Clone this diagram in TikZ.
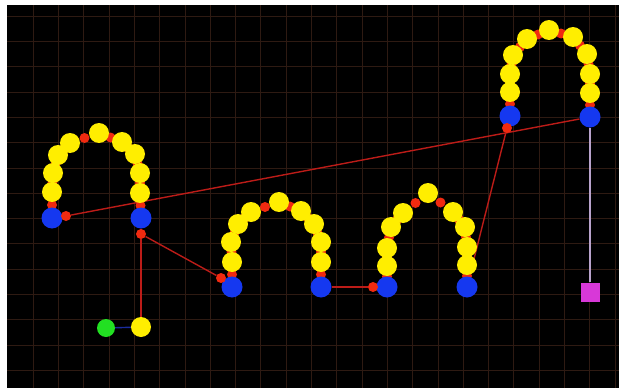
\documentclass[tikz,border=0pt]{standalone}
\usepackage{tikz}
\usetikzlibrary{calc}
\definecolor{gridBrown}{HTML}{2E1A12}
\definecolor{linkYellow}{HTML}{FFEE00}
\definecolor{motorBlue}{HTML}{1538F0}
\definecolor{jointRed}{HTML}{F02A10}
\definecolor{rodRed}{HTML}{BC1C18}
\definecolor{startGreen}{HTML}{22E022}
\definecolor{goalPink}{HTML}{D838D8}
\definecolor{rodLilac}{HTML}{B9A3CC}
\definecolor{rodNavy}{HTML}{1A2C9E}
\pgfdeclarelayer{bg}
\pgfdeclarelayer{rods}
\pgfsetlayers{bg,rods,main}

\begin{document}
\begin{tikzpicture}[x=1pt, y=-1pt,
  link/.style={circle, fill=linkYellow, inner sep=0pt, minimum size=20pt},
  motor/.style={circle, fill=motorBlue, inner sep=0pt, minimum size=21pt},
  joint/.style={circle, fill=jointRed, inner sep=0pt, minimum size=10pt},
  start/.style={circle, fill=startGreen, inner sep=0pt, minimum size=18pt},
  goal/.style={rectangle, fill=goalPink, inner sep=0pt, minimum size=19pt},
  rod/.style={draw=rodRed, line width=1.4pt}
]
\useasboundingbox (0,0) rectangle (619,388);
\begin{pgfonlayer}{bg}
\fill[white] (0,0) rectangle (619,388);
\fill[black] (7,5) rectangle (619,388);
\foreach \gx in {0,...,23}
  \draw[gridBrown, line width=0.6pt] ({33+25.3*\gx},5) -- ++(0,383);
\foreach \gy in {0,...,14}
  \draw[gridBrown, line width=0.6pt] (7,{16+25.3*\gy}) -- ++(612,0);
\end{pgfonlayer}

\foreach \arch/\pts in {%
  1/{52/218,52/192,53/173,58/155,70/143,99/133,122/142,135/154,140/173,140/193,141/218},%
  2/{232/287,232/262,231/242,238/224,251/212,279/202,301/211,314/224,321/242,321/262,321/287},%
  3/{387/287,387/266,387/248,391/227,403/213,428/193,453/212,465/227,467/247,467/265,467/287},%
  4/{510/116,510/92,510/74,513/55,527/39,549/30,573/37,587/54,590/74,590/93,590/117}}{
  \foreach \x/\y [count=\i] in \pts {\coordinate (p\arch-\i) at (\x,\y);}
  \foreach \i [evaluate=\i as \j using int(\i+1)] in {1,...,10}
    \node[joint] (j\arch-\i) at ($(p\arch-\i)!0.5!(p\arch-\j)$) {};
  \foreach \i in {2,...,10}
    \node[link] (y\arch-\i) at (p\arch-\i) {};
  \node[motor] (m\arch-a) at (p\arch-1) {};
  \node[motor] (m\arch-b) at (p\arch-11) {};
}

\node[joint] (hipL) at (66,216) {};
\node[joint] (hipR) at (141,234) {};
\node[joint] (kneeA) at (221,278) {};
\node[joint] (kneeB) at (373,287) {};
\node[joint] (kneeC) at (507,128) {};
\coordinate (tuck) at (473,263);
\node[link] (foot) at (141,327) {};
\node[start] (start) at (106,328) {};
\node[goal] (goal) at (590,292) {};

\begin{pgfonlayer}{rods}
\draw[rod] (hipL) -- (m4-b);
\draw[rod] (hipR) -- (foot);
\draw[rod] (hipR) -- (kneeA);
\draw[rod] (m2-b) -- (kneeB);
\draw[rod] (kneeC) -- (tuck);
\draw[draw=rodNavy, line width=1.4pt] (start) -- (foot);
\draw[draw=rodLilac, line width=2pt] (m4-b) -- (goal);
\end{pgfonlayer}
\end{tikzpicture}
\end{document}
